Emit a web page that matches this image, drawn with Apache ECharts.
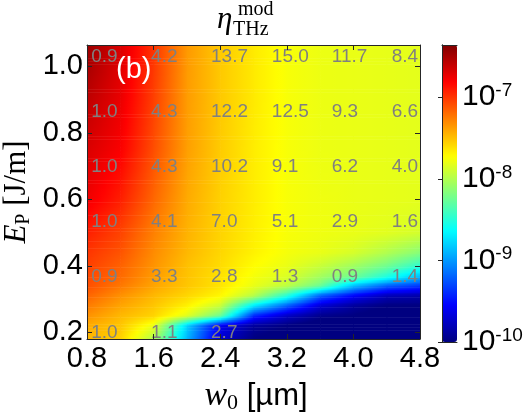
<!DOCTYPE html>
<html><head><meta charset="utf-8">
<script src="https://cdn.jsdelivr.net/npm/echarts@6/dist/echarts.min.js"></script>
<style>html,body{margin:0;padding:0;background:#fff}#c{width:531px;height:415px}</style>
</head><body><div id="c"></div>
<script>
// ---- data ----
const xNodes = [0.8, 1.2, 1.6, 2.0, 2.4, 2.8, 3.2, 3.6, 4.0, 4.4, 4.8];           // w0 [um]
const yNodes = [1.064, 0.9, 0.75, 0.6, 0.5, 0.44, 0.40, 0.366, 0.34, 0.31, 0.28, 0.25, 0.22, 0.18]; // E_P [J/m]
// log10(eta_THz^mod) at each node (row = yNode, column = xNode)
const logEta = [
  [-6.45, -6.68, -7.00, -7.36, -7.53, -7.65, -7.75, -7.79, -7.80, -7.81, -7.82],
  [-6.58, -6.74, -7.04, -7.37, -7.53, -7.65, -7.75, -7.79, -7.80, -7.81, -7.82],
  [-6.68, -6.80, -7.09, -7.38, -7.54, -7.66, -7.75, -7.79, -7.80, -7.81, -7.82],
  [-6.76, -6.92, -7.18, -7.42, -7.56, -7.66, -7.75, -7.78, -7.80, -7.81, -7.82],
  [-6.92, -7.05, -7.27, -7.45, -7.57, -7.67, -7.75, -7.78, -7.80, -7.83, -7.88],
  [-7.00, -7.11, -7.31, -7.47, -7.58, -7.68, -7.76, -7.80, -7.87, -8.00, -8.15],
  [-7.04, -7.16, -7.34, -7.50, -7.60, -7.72, -7.80, -7.92, -8.06, -8.23, -8.47],
  [-7.07, -7.19, -7.37, -7.51, -7.62, -7.76, -7.86, -8.06, -8.25, -8.54, -8.90],
  [-7.09, -7.24, -7.40, -7.52, -7.63, -7.80, -7.96, -8.25, -8.85, -9.20, -9.35],
  [-7.17, -7.33, -7.47, -7.58, -7.70, -7.98, -8.50, -9.20, -9.55, -9.80, -9.85],
  [-7.25, -7.40, -7.52, -7.68, -7.92, -8.70, -9.20, -9.70, -9.90, -10.0, -10.0],
  [-7.33, -7.47, -7.57, -7.83, -8.25, -9.40, -9.75, -9.95, -10.0, -10.1, -10.1],
  [-7.42, -7.52, -7.80, -8.80, -9.60, -9.90, -10.0, -10.1, -10.1, -10.1, -10.1],
  [-7.47, -7.56, -8.02, -8.90, -9.70, -10.0, -10.1, -10.1, -10.1, -10.1, -10.1]
];
// annotated numbers
const labelX = [0.85, 1.57, 2.29, 3.02, 3.74, 4.46];
const labelY = [1.03, 0.864, 0.698, 0.532, 0.366, 0.2];
const labelVals = [
  [0.9, 4.2, 13.7, 15.0, 11.7, 8.4],
  [1.0, 4.3, 12.2, 12.5, 9.3, 6.6],
  [1.0, 4.3, 10.2, 9.1, 6.2, 4.0],
  [1.0, 4.1, 7.0, 5.1, 2.9, 1.6],
  [0.9, 3.3, 2.8, 1.3, 0.9, 1.4],
  [1.0, 1.1, 2.7, null, null, null]
];
const xTicks = [0.8, 1.6, 2.4, 3.2, 4.0, 4.8];
const yTicks = [0.2, 0.4, 0.6, 0.8, 1.0];
const cbTicks = [-10, -9, -8, -7];
const cbMin = -10, cbMax = -6.36;
const xMin = 0.8, xMax = 4.8, yMin = 0.18, yMax = 1.064;

// ---- style ----
const jetColors = ['#000080', '#0000ff', '#0080ff', '#00ffff', '#80ff80', '#ffff00', '#ff8000', '#ff0000', '#800000'];
const SANS = "'Liberation Sans', Arial, sans-serif";
const SERIF = "'Liberation Serif', 'Times New Roman', serif";
const AX = '#262626';

const jetRGB = jetColors.map(h => [parseInt(h.substr(1, 2), 16), parseInt(h.substr(3, 2), 16), parseInt(h.substr(5, 2), 16)]);
function jet(v) {
  let t = (v - cbMin) / (cbMax - cbMin);
  t = Math.max(0, Math.min(1, t));
  const s = t * 8, i = Math.min(7, Math.floor(s)), f = s - i;
  const a = jetRGB[i], b = jetRGB[i + 1];
  return 'rgb(' + [0, 1, 2].map(k => Math.round(a[k] + (b[k] - a[k]) * f)).join(',') + ')';
}

const cells = [];
for (let j = 0; j < yNodes.length - 1; j++) {
  for (let i = 0; i < xNodes.length - 1; i++) {
    cells.push([xNodes[i], yNodes[j], xNodes[i + 1], yNodes[j + 1],
      logEta[j][i], logEta[j][i + 1], logEta[j + 1][i], logEta[j + 1][i + 1]]);
  }
}
const texts = [];
labelVals.forEach((row, j) => row.forEach((v, i) => { if (v != null) texts.push([labelX[i], labelY[j], v]); }));

function renderCell(params, api) {
  const x0 = api.value(0), y0 = api.value(1), x1 = api.value(2), y1 = api.value(3);
  const v00 = api.value(4), v10 = api.value(5), v01 = api.value(6), v11 = api.value(7);
  const p0 = api.coord([x0, y0]), p1 = api.coord([x1, y1]);
  const left = Math.min(p0[0], p1[0]), w = Math.abs(p1[0] - p0[0]);
  const h = p1[1] - p0[1];
  const n = Math.max(1, Math.ceil(Math.abs(h) / 1.5));
  const children = [];
  const M = 7;
  for (let k = 0; k < n; k++) {
    const f = (k + 0.5) / n;
    const vL = v00 + (v01 - v00) * f, vR = v10 + (v11 - v10) * f;
    const stops = [];
    for (let s = 0; s < M; s++) stops.push({ offset: s / (M - 1), color: jet(vL + (vR - vL) * s / (M - 1)) });
    const ya = p0[1] + h * k / n, yb = p0[1] + h * (k + 1) / n;
    children.push({
      type: 'rect',
      shape: { x: left, y: Math.min(ya, yb), width: w + 0.6, height: Math.abs(yb - ya) + 0.6 },
      style: { fill: new echarts.graphic.LinearGradient(p0[0] < p1[0] ? 0 : 1, 0, p0[0] < p1[0] ? 1 : 0, 0, stops) },
      silent: true
    });
  }
  return { type: 'group', children };
}

function renderText(params, api) {
  const p = api.coord([api.value(0), api.value(1)]);
  return {
    type: 'text', x: p[0], y: p[1], silent: true,
    style: { text: api.value(2).toFixed(1), fill: '#808080', font: '19px ' + SANS, align: 'left', verticalAlign: 'middle' }
  };
}

const chart = echarts.init(document.getElementById('c'));
const mainGrid = { left: 87, top: 45, width: 333, height: 294 };
const cbGrid = { left: 442, top: 45, width: 15, height: 297 };
chart.setOption({
  animation: false,
  grid: [mainGrid, cbGrid],
  xAxis: [
    { gridIndex: 0, type: 'value', min: xMin, max: xMax, interval: 0.8, position: 'bottom', z: 10,
      axisLine: { show: true, lineStyle: { color: AX, width: 1 } },
      axisTick: { show: true, inside: true, length: 5, lineStyle: { color: AX } },
      axisLabel: { show: true, color: '#000', fontSize: 29, fontFamily: SANS, margin: 5, formatter: v => v.toFixed(1) },
      splitLine: { show: false } },
    { gridIndex: 0, type: 'value', min: xMin, max: xMax, interval: 0.8, position: 'top', z: 10,
      axisLine: { show: true, lineStyle: { color: AX, width: 1 } },
      axisTick: { show: true, inside: true, length: 5, lineStyle: { color: AX } },
      axisLabel: { show: false }, splitLine: { show: false } },
    { gridIndex: 1, type: 'value', min: 0, max: 1, position: 'bottom', z: 10,
      axisLine: { show: true, lineStyle: { color: AX } }, axisTick: { show: false }, axisLabel: { show: false }, splitLine: { show: false } },
    { gridIndex: 1, type: 'value', min: 0, max: 1, position: 'top', z: 10,
      axisLine: { show: true, lineStyle: { color: AX } }, axisTick: { show: false }, axisLabel: { show: false }, splitLine: { show: false } }
  ],
  yAxis: [
    { gridIndex: 0, type: 'value', min: yMin, max: yMax, position: 'left', z: 10,
      axisLine: { show: true, lineStyle: { color: AX, width: 1 } },
      axisTick: { show: true, inside: true, length: 5, customValues: yTicks, lineStyle: { color: AX } },
      axisLabel: { show: true, customValues: yTicks, color: '#000', fontSize: 29, fontFamily: SANS, margin: 4, formatter: v => v.toFixed(1) },
      splitLine: { show: false } },
    { gridIndex: 0, type: 'value', min: yMin, max: yMax, position: 'right', z: 10,
      axisLine: { show: true, lineStyle: { color: AX, width: 1 } },
      axisTick: { show: true, inside: true, length: 5, customValues: yTicks, lineStyle: { color: AX } },
      axisLabel: { show: false }, splitLine: { show: false } },
    { gridIndex: 1, type: 'value', min: cbMin, max: cbMax, position: 'right', z: 10,
      axisLine: { show: true, lineStyle: { color: AX } },
      axisTick: { show: true, inside: true, length: 4, customValues: cbTicks, lineStyle: { color: AX } },
      axisLabel: { show: true, customValues: cbTicks, margin: 5,
        formatter: v => '{b|10}{s|' + Math.round(v) + '}',
        rich: { b: { fontSize: 30, fontFamily: SANS, color: '#000', lineHeight: 32 },
                s: { fontSize: 19, fontFamily: SANS, color: '#000', lineHeight: 18, verticalAlign: 'top' } } },
      splitLine: { show: false } },
    { gridIndex: 1, type: 'value', min: cbMin, max: cbMax, position: 'left', z: 10,
      axisLine: { show: true, lineStyle: { color: AX } }, axisTick: { show: false }, axisLabel: { show: false }, splitLine: { show: false } }
  ],
  visualMap: {
    type: 'continuous', min: cbMin, max: cbMax, seriesIndex: [], calculable: false,
    left: 442, top: 45, itemWidth: 15, itemHeight: 297, padding: 0,
    inRange: { color: jetColors }, z: 2
  },
  series: [
    { type: 'custom', xAxisIndex: 0, yAxisIndex: 0, data: cells, encode: { x: [0, 2], y: [1, 3] },
      renderItem: renderCell, clip: true, z: 1, silent: true },
    { type: 'custom', xAxisIndex: 0, yAxisIndex: 0, data: texts, encode: { x: 0, y: 1 },
      renderItem: renderText, z: 3, silent: true }
  ],
  graphic: [
    { type: 'text', left: 116, top: 55, z: 20, style: { text: '(b)', fill: '#fff', font: '29px ' + SANS } },
    { type: 'text', x: 217, y: 20, z: 20, style: { text: 'η', fill: '#000', font: 'italic 31px ' + SERIF, verticalAlign: 'middle' } },
    { type: 'text', x: 238, y: 10, z: 20, style: { text: 'mod', fill: '#000', font: '20px ' + SERIF, verticalAlign: 'middle' } },
    { type: 'text', x: 233, y: 30, z: 20, style: { text: 'THz', fill: '#000', font: '20px ' + SERIF, verticalAlign: 'middle' } },
    { type: 'text', x: 256, y: 396, z: 20,
      style: { text: '{w|w}{z|0}{u| [µm]}', align: 'center', verticalAlign: 'middle',
        rich: { w: { fontSize: 34, fontFamily: SERIF, fontStyle: 'italic', color: '#000', lineHeight: 36 },
                z: { fontSize: 22, fontFamily: SERIF, color: '#000', lineHeight: 22, verticalAlign: 'bottom' },
                u: { fontSize: 31, fontFamily: SANS, color: '#000', lineHeight: 36 } } } },
    { type: 'text', x: 17, y: 192, rotation: Math.PI / 2, z: 20,
      style: { text: '{e|E}{p|P}{u| [J/m]}', align: 'center', verticalAlign: 'middle',
        rich: { e: { fontSize: 31, fontFamily: SERIF, fontStyle: 'italic', color: '#000', lineHeight: 34 },
                p: { fontSize: 20, fontFamily: SERIF, color: '#000', lineHeight: 20, verticalAlign: 'bottom' },
                u: { fontSize: 31, fontFamily: SERIF, color: '#000', lineHeight: 34 } } } }
  ]
});
</script></body></html>
